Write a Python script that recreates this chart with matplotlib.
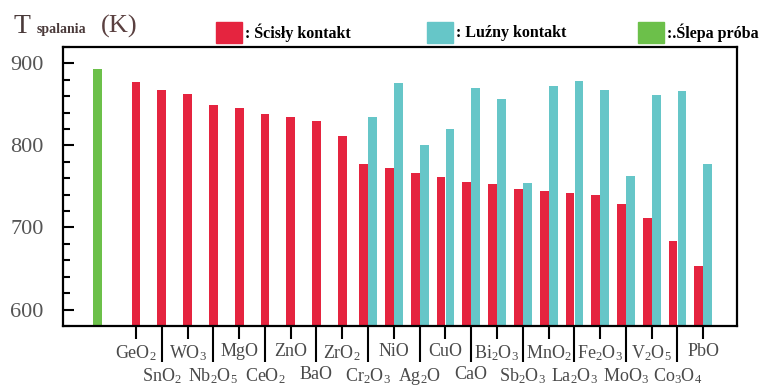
import matplotlib.pyplot as plt
from matplotlib.patches import Rectangle
from matplotlib.ticker import MultipleLocator

plt.rcParams['font.family'] = ['Liberation Serif', 'DejaVu Serif']
plt.rcParams['mathtext.fontset'] = 'custom'
plt.rcParams['mathtext.rm'] = 'Liberation Serif'
plt.rcParams['mathtext.default'] = 'regular'

# dane
oxides = ['GeO$_2$', 'SnO$_2$', 'WO$_3$', 'Nb$_2$O$_5$', 'MgO', 'CeO$_2$', 'ZnO', 'BaO',
          'ZrO$_2$', 'Cr$_2$O$_3$', 'NiO', 'Ag$_2$O', 'CuO', 'CaO', 'Bi$_2$O$_3$',
          'Sb$_2$O$_3$', 'MnO$_2$', 'La$_2$O$_3$', 'Fe$_2$O$_3$', 'MoO$_3$', 'V$_2$O$_5$',
          'Co$_3$O$_4$', 'PbO']
scisly = [877, 867, 863, 849, 845, 838, 835, 830, 811, 777, 772, 766, 762, 756, 753,
          747, 745, 742, 739, 728, 711, 684, 653]
luzny_oxides = oxides[9:]
luzny = [835, 876, 800, 820, 870, 857, 754, 872, 878, 867, 763, 862, 866, 777]
slepa = 893

red = '#e5243f'
cyan = '#66c6c8'
green = '#6cc04a'

fig = plt.figure(figsize=(7.69, 3.88), dpi=100)
ax = fig.add_axes([0.082, 0.160, 0.876, 0.719])

n_single = len(oxides) - len(luzny)
w = 0.34
for i, v in enumerate(scisly):
    x = i if i < n_single else i - 0.17
    ax.bar(x, v - 560, bottom=560, width=w, color=red)
for j, v in enumerate(luzny):
    ax.bar(n_single + j + 0.18, v - 560, bottom=560, width=w, color=cyan)
ax.bar(-1.5, slepa - 560, bottom=560, width=w, color=green)

ax.set_ylim(580, 920)
ax.set_xlim(-2.83, 23.3)
ax.yaxis.set_major_locator(MultipleLocator(100))
ax.yaxis.set_minor_locator(MultipleLocator(20))
ax.tick_params(axis='y', which='major', direction='in', length=8, width=1.5,
               labelsize=16, labelcolor='#555555', pad=14)
ax.tick_params(axis='y', which='minor', direction='in', length=5, width=1.5)

pos = list(range(len(oxides)))
ax.set_xticks(pos[0::2])
ax.set_xticklabels(oxides[0::2])
ax.set_xticks(pos[1::2], minor=True)
ax.set_xticklabels(oxides[1::2], minor=True)
ax.tick_params(axis='x', which='major', direction='out', length=9.5, width=1.5,
               labelsize=13, labelcolor='#4a4a4a', pad=3)
ax.tick_params(axis='x', which='minor', direction='out', length=26, width=1.5,
               labelsize=13, labelcolor='#4a4a4a', pad=3)

for s in ax.spines.values():
    s.set_linewidth(1.6)

# tytuł osi
fig.text(0.018, 0.915, 'T', fontsize=20, color='#4a3a3a', va='baseline')
fig.text(0.047, 0.915, 'spalania', fontsize=10, fontweight='bold', color='#4a3a3a',
         va='baseline')
fig.text(0.131, 0.915, '(K)', fontsize=19, color='#5a4040', va='baseline')

# legenda
leg = [(216, red, ': Ścisły kontakt'), (427, cyan, ': Luźny kontakt'),
       (638, green, ':.Ślepa próba')]
for px, c, t in leg:
    fig.patches.append(Rectangle((px / 769, 1 - 43 / 388), 26 / 769, 21 / 388,
                                 transform=fig.transFigure, color=c))
    fig.text((px + 29) / 769, 1 - 33 / 388, t, fontsize=11.5, fontweight='bold',
             va='center')

plt.savefig('out.png', dpi=100)
